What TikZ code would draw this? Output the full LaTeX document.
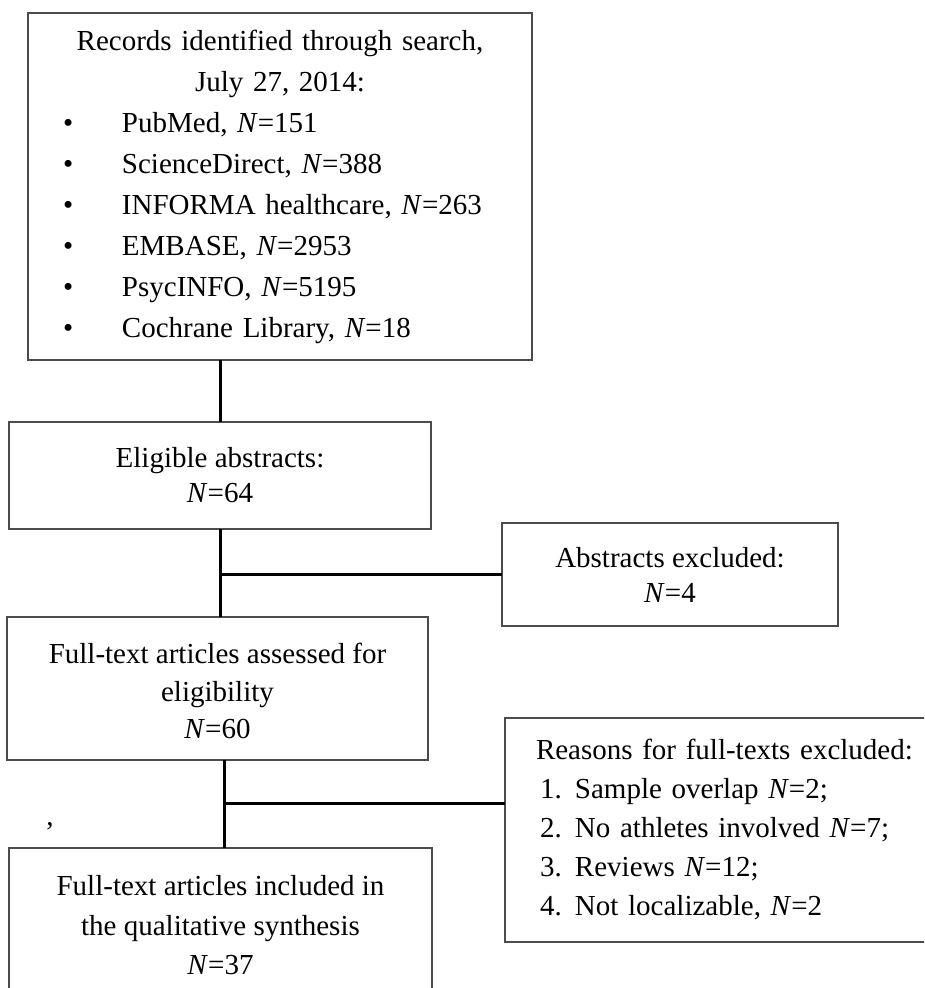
\documentclass[tikz,border=0pt]{standalone}
\usepackage{fontspec}
\setmainfont{Liberation Serif}
\usetikzlibrary{positioning}

\newcommand{\srcitem}[1]{\makebox[\linewidth][l]{\hspace*{35pt}\makebox[59pt][l]{\textbullet}#1}}
\newcommand{\whyitem}[2]{\hspace*{4pt}\makebox[35pt][l]{#1.}#2}

\begin{document}
\begin{tikzpicture}[
  x=1pt, y=-1pt,
  font=\fontsize{29}{38}\selectfont,
  box/.style={draw=black!70, line width=1.3pt, inner sep=0pt, outer sep=0pt, align=center},
  conn/.style={line width=3pt},
]
\useasboundingbox (0,0) rectangle (924,988);
\clip (0,0) rectangle (924,988);

\node[box, anchor=north west, minimum width=504pt, minimum height=347pt, text width=504pt,
      font=\fontsize{29}{41}\selectfont] (rec) at (28,13)
  {Records identified through search,\\July 27, 2014:\\
   \srcitem{PubMed, \textit{N}=151}\\
   \srcitem{ScienceDirect, \textit{N}=388}\\
   \srcitem{INFORMA healthcare, \textit{N}=263}\\
   \srcitem{EMBASE, \textit{N}=2953}\\
   \srcitem{PsycINFO, \textit{N}=5195}\\
   \srcitem{Cochrane Library, \textit{N}=18}};
\node[box, minimum width=422pt, minimum height=107pt, font=\fontsize{29}{35}\selectfont,
      below right=62pt and -19pt of rec.south west] (elig) {Eligible abstracts:\\\textit{N}=64};
\node[box, minimum width=336pt, minimum height=103pt, font=\fontsize{29}{35}\selectfont,
      below right=101pt and 71pt of elig.north east] (absx) {Abstracts excluded:\\\textit{N}=4};
\node[box, minimum width=421pt, minimum height=143pt, font=\fontsize{29}{37.5}\selectfont,
      below right=88pt and -2pt of elig.south west] (full)
  {\strut Full-text articles assessed for\\eligibility\\\textit{N}=60};
\node[box, align=left, text width=380pt, inner xsep=31pt, minimum height=224pt,
      font=\fontsize{29}{39}\selectfont,
      below right=101pt and 77pt of full.north east] (reas)
  {Reasons for full-texts excluded:\\
   \whyitem{1}{Sample overlap \textit{N}=2;}\\
   \whyitem{2}{No athletes involved \textit{N}=7;}\\
   \whyitem{3}{Reviews \textit{N}=12;}\\
   \whyitem{4}{Not localizable, \textit{N}=2}};
\node[box, minimum width=423pt, minimum height=155pt, font=\fontsize{29}{39.5}\selectfont,
      below right=88pt and 2pt of full.south west] (incl)
  {Full-text articles included in\\the qualitative synthesis\\\textit{N}=37};
\node[font=\fontsize{29}{29}\selectfont] (blip) at (50,826) {,};

\coordinate (stem) at ([xshift=7pt]full.south);
\coordinate (tap) at ([yshift=27pt]reas.west);

\draw[conn] (rec.south -| elig.north) -- (elig.north);
\draw[conn] (elig.south) -- (elig.south |- full.north);
\draw[conn] (elig.south |- absx.west) -- (absx.west);
\draw[conn] (stem) -- (stem |- incl.north);
\draw[conn] (stem |- tap) -- (tap);
\end{tikzpicture}
\end{document}
